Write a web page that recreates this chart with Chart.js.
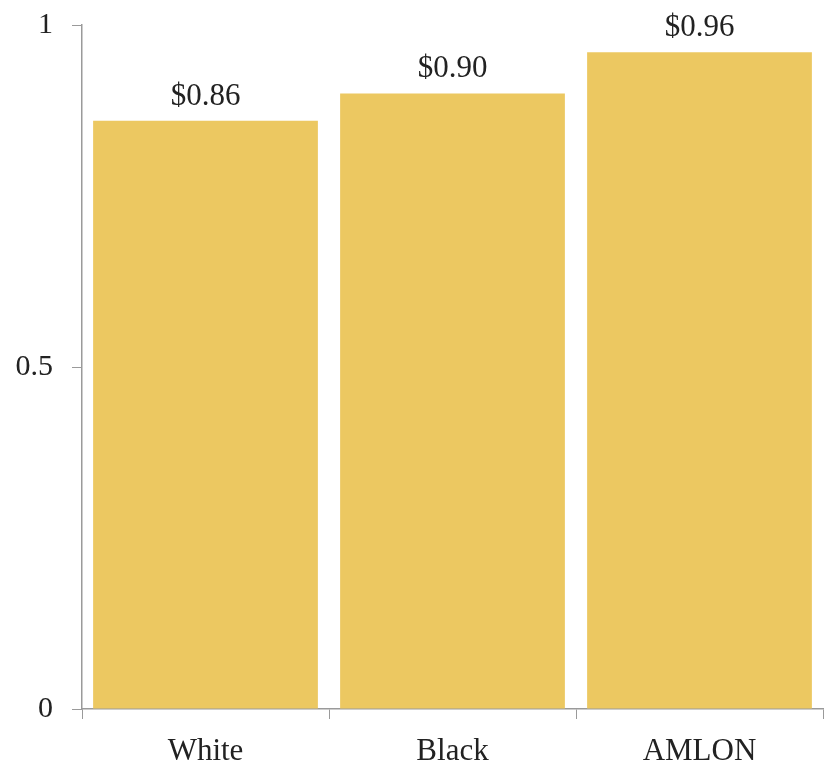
<!DOCTYPE html>
<html>
<head>
<meta charset="utf-8">
<script src="https://cdn.jsdelivr.net/npm/chart.js@4.4.1/dist/chart.umd.min.js"></script>
<style>
html,body{margin:0;padding:0;background:#fff;}
#wrap{position:relative;width:825px;height:766px;}
</style>
</head>
<body>
<div id="wrap"><canvas id="c" width="825" height="766"></canvas></div>
<script>
const categories = ["White", "Black", "AMLON"];
const values = [0.86, 0.90, 0.96];
const valueLabels = ["$0.86", "$0.90", "$0.96"];
const yTicks = [0, 0.5, 1];

const serif = "'Liberation Serif', 'DejaVu Serif', serif";
const axisColor = '#9a9a9a';

const labelPlugin = {
  id: 'valueLabels',
  afterDatasetsDraw(chart) {
    const ctx = chart.ctx;
    const meta = chart.getDatasetMeta(0);
    ctx.save();
    ctx.font = '31px ' + serif;
    ctx.fillStyle = '#222';
    ctx.textAlign = 'center';
    ctx.textBaseline = 'alphabetic';
    meta.data.forEach((bar, i) => {
      ctx.fillText(valueLabels[i], bar.x, bar.y - 16);
    });
    ctx.restore();
  }
};

new Chart(document.getElementById('c'), {
  type: 'bar',
  data: {
    labels: categories,
    datasets: [{
      data: values,
      backgroundColor: '#ECC861',
      borderWidth: 0,
      categoryPercentage: 1.0,
      barPercentage: 0.91
    }]
  },
  options: {
    responsive: false,
    animation: false,
    devicePixelRatio: 1,
    layout: { padding: { top: 25, right: 2, left: 0, bottom: 0 } },
    plugins: { legend: { display: false }, tooltip: { enabled: false } },
    scales: {
      x: {
        afterFit(axis) { axis.height = 57; },
        grid: { display: true, drawOnChartArea: false, drawTicks: true, tickLength: 10, color: axisColor, offset: true },
        border: { display: true, color: axisColor, width: 1.5 },
        ticks: { color: '#222', font: { family: serif, size: 31 }, padding: 14 }
      },
      y: {
        min: 0, max: 1,
        afterBuildTicks(axis) { axis.ticks = yTicks.map(v => ({ value: v })); },
        afterFit(axis) { axis.width = 82; axis.paddingTop = 0; axis.paddingBottom = 0; },
        grid: { display: true, drawOnChartArea: false, drawTicks: true, tickLength: 10, color: axisColor },
        border: { display: true, color: axisColor, width: 1.5 },
        ticks: { color: '#222', font: { family: serif, size: 30 }, padding: 19,
          callback: v => String(v) }
      }
    }
  },
  plugins: [labelPlugin]
});
</script>
</body>
</html>
